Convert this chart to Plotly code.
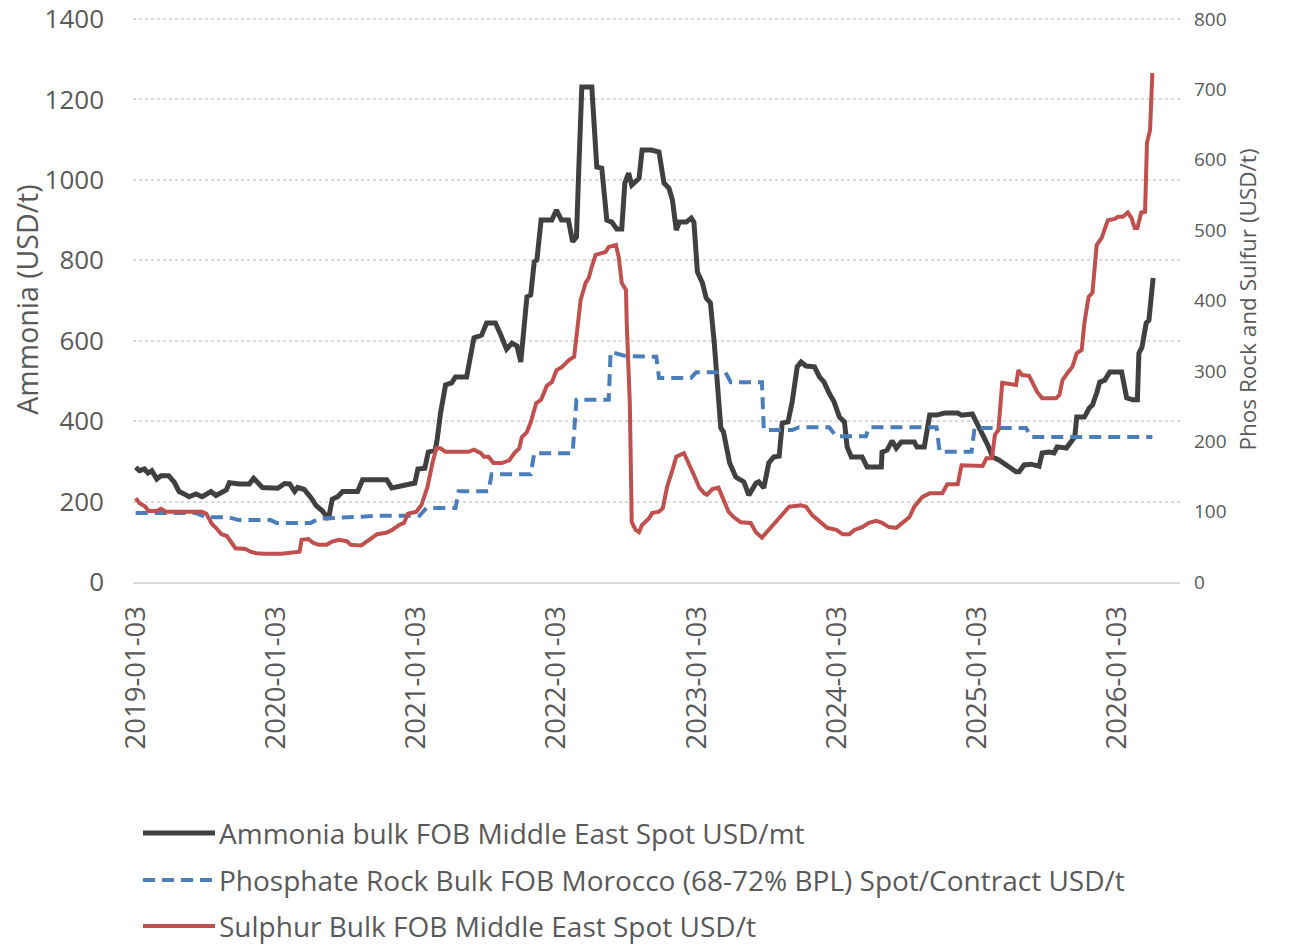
import plotly.graph_objects as go

# ---------------- data ----------------
ammonia_dates = [
    "2019-01-03", "2019-01-13", "2019-01-26", "2019-02-04", "2019-02-14", "2019-02-27",
    "2019-03-10", "2019-03-30", "2019-04-13", "2019-04-26", "2019-05-09", "2019-05-22",
    "2019-06-09", "2019-06-25", "2019-07-18", "2019-07-31", "2019-08-27", "2019-09-04",
    "2019-09-30", "2019-10-26", "2019-11-06", "2019-11-29", "2020-01-08", "2020-01-26",
    "2020-02-08", "2020-02-21", "2020-02-29", "2020-03-17", "2020-04-05", "2020-04-18",
    "2020-05-03", "2020-05-19", "2020-05-29", "2020-06-12", "2020-06-25", "2020-08-03",
    "2020-08-16", "2020-10-18", "2020-10-31", "2020-11-29", "2020-12-30", "2021-01-07",
    "2021-01-25", "2021-02-03", "2021-02-21", "2021-02-26", "2021-03-07", "2021-03-20",
    "2021-04-05", "2021-04-15", "2021-05-14", "2021-06-02", "2021-06-22", "2021-07-05",
    "2021-07-28", "2021-08-11", "2021-08-19", "2021-08-26", "2021-09-09", "2021-09-22",
    "2021-10-02", "2021-10-18", "2021-10-28", "2021-11-06", "2021-11-13", "2021-11-24",
    "2021-12-22", "2022-01-03", "2022-01-16", "2022-02-03", "2022-02-14", "2022-02-24",
    "2022-03-02", "2022-03-10", "2022-04-05", "2022-04-13", "2022-04-18", "2022-05-01",
    "2022-05-14", "2022-05-27", "2022-06-09", "2022-06-22", "2022-06-30", "2022-07-10",
    "2022-07-18", "2022-08-06", "2022-08-14", "2022-09-07", "2022-09-27", "2022-10-10",
    "2022-10-23", "2022-11-01", "2022-11-11", "2022-11-19", "2022-12-07", "2022-12-20",
    "2022-12-27", "2023-01-05", "2023-01-18", "2023-01-28", "2023-02-08", "2023-02-18",
    "2023-03-07", "2023-03-14", "2023-03-30", "2023-04-15", "2023-05-06", "2023-05-19",
    "2023-06-07", "2023-06-14", "2023-06-27", "2023-07-10", "2023-07-23", "2023-08-06",
    "2023-08-14", "2023-08-29", "2023-09-09", "2023-09-22", "2023-10-02", "2023-10-15",
    "2023-11-06", "2023-11-19", "2023-12-01", "2023-12-14", "2023-12-27", "2024-01-10",
    "2024-01-23", "2024-01-30", "2024-02-10", "2024-03-09", "2024-03-22", "2024-04-28",
    "2024-04-30", "2024-05-13", "2024-05-26", "2024-06-06", "2024-06-19", "2024-07-23",
    "2024-07-30", "2024-08-18", "2024-09-01", "2024-09-19", "2024-10-10", "2024-11-13",
    "2024-11-23", "2024-12-21", "2025-01-02", "2025-01-17", "2025-01-30", "2025-02-12",
    "2025-03-01", "2025-03-27", "2025-04-14", "2025-04-22", "2025-05-05", "2025-05-23",
    "2025-06-13", "2025-06-21", "2025-07-09", "2025-07-22", "2025-07-30", "2025-08-23",
    "2025-09-06", "2025-09-14", "2025-09-19", "2025-10-09", "2025-10-22", "2025-10-30",
    "2025-11-10", "2025-11-18", "2025-12-01", "2025-12-14", "2026-01-14", "2026-01-17",
    "2026-01-27", "2026-02-12", "2026-02-24", "2026-02-28", "2026-03-08", "2026-03-19",
    "2026-03-26", "2026-04-06",
]
ammonia_values = [
    285, 277, 281, 271, 277, 256,
    264, 264, 249, 225, 219, 212,
    219, 212, 225, 215, 229, 247,
    244, 244, 258, 235, 233, 245,
    244, 225, 235, 230, 208, 189,
    177, 156, 206, 212, 225, 225,
    254, 254, 234, 241, 246, 281,
    283, 323, 328, 353, 420, 490,
    495, 510, 510, 607, 614, 644,
    644, 614, 594, 579, 594, 587,
    547, 709, 714, 796, 801, 900,
    900, 925, 900, 900, 846, 858,
    1024, 1231, 1231, 1099, 1032, 1029,
    900, 895, 878, 878, 992, 1017,
    987, 1004, 1074, 1074, 1069, 992,
    979, 950, 875, 895, 895, 905,
    895, 771, 744, 706, 694, 594,
    383, 373, 296, 261, 249, 216,
    246, 249, 234, 296, 311, 313,
    395, 398, 448, 535, 547, 537,
    535, 510, 497, 470, 448, 410,
    398, 336, 311, 311, 286, 286,
    323, 328, 351, 333, 348, 348,
    336, 336, 415, 415, 420, 420,
    415, 418, 395, 370, 341, 311,
    303, 286, 274, 274, 291, 293,
    288, 321, 323, 321, 336, 333,
    348, 361, 410, 410, 433, 440,
    470, 497, 502, 522, 522, 507,
    458, 453, 453, 569, 584, 644,
    651, 756,
]

phos_dates = [
    "2019-01-03", "2019-06-09", "2019-07-06", "2019-09-02", "2019-09-28", "2019-12-20",
    "2020-01-05", "2020-04-03", "2020-04-24", "2020-07-11", "2020-09-23", "2021-01-11",
    "2021-01-29", "2021-04-15", "2021-04-23", "2021-07-10", "2021-07-18", "2021-10-28",
    "2021-11-06", "2022-02-14", "2022-02-24", "2022-05-19", "2022-05-24", "2022-07-03",
    "2022-09-20", "2022-09-27", "2022-12-19", "2023-01-02", "2023-03-19", "2023-04-02",
    "2023-06-22", "2023-06-27", "2023-09-09", "2023-09-27", "2023-12-14", "2024-01-02",
    "2024-03-19", "2024-03-27", "2024-09-19", "2024-09-27", "2024-12-19", "2024-12-27",
    "2025-05-10", "2025-05-23", "2026-04-04",
]
phos_values = [
    98, 98, 92, 92, 88, 88,
    84, 84, 90, 92, 94, 94,
    105, 105, 129, 129, 153, 153,
    183, 183, 259, 259, 327, 321,
    320, 290, 290, 298, 298, 284,
    284, 216, 216, 220, 220, 207,
    207, 220, 220, 185, 185, 219,
    219, 206, 206,
]

sulphur_dates = [
    "2019-01-03", "2019-01-13", "2019-01-26", "2019-02-06", "2019-02-27", "2019-03-10",
    "2019-03-23", "2019-06-09", "2019-06-25", "2019-07-06", "2019-07-21", "2019-07-31",
    "2019-08-14", "2019-08-29", "2019-09-20", "2019-10-16", "2019-10-29", "2019-11-13",
    "2019-12-02", "2020-01-18", "2020-02-14", "2020-03-05", "2020-03-10", "2020-03-28",
    "2020-04-11", "2020-04-24", "2020-05-14", "2020-05-27", "2020-06-15", "2020-07-06",
    "2020-07-16", "2020-08-12", "2020-09-02", "2020-09-23", "2020-10-16", "2020-11-01",
    "2020-11-19", "2020-12-02", "2020-12-12", "2021-01-03", "2021-01-16", "2021-02-01",
    "2021-02-14", "2021-02-24", "2021-03-07", "2021-03-20", "2021-05-19", "2021-06-02",
    "2021-06-20", "2021-06-28", "2021-07-10", "2021-07-23", "2021-08-14", "2021-09-02",
    "2021-09-15", "2021-09-28", "2021-10-05", "2021-10-18", "2021-10-28", "2021-11-11",
    "2021-11-24", "2021-12-09", "2021-12-22", "2022-01-03", "2022-01-16", "2022-01-29",
    "2022-02-06", "2022-02-18", "2022-02-25", "2022-03-07", "2022-03-20", "2022-03-28",
    "2022-04-05", "2022-04-15", "2022-04-28", "2022-05-11", "2022-05-19", "2022-06-07",
    "2022-06-14", "2022-06-22", "2022-07-03", "2022-07-05", "2022-07-13", "2022-07-18",
    "2022-07-28", "2022-08-06", "2022-08-14", "2022-09-02", "2022-09-09", "2022-09-27",
    "2022-10-07", "2022-10-18", "2022-11-01", "2022-11-11", "2022-12-01", "2022-12-14",
    "2022-12-27", "2023-01-10", "2023-01-23", "2023-01-30", "2023-02-13", "2023-03-01",
    "2023-03-14", "2023-03-27", "2023-04-10", "2023-04-28", "2023-05-24", "2023-06-06",
    "2023-06-22", "2023-07-10", "2023-07-28", "2023-08-14", "2023-09-01", "2023-10-02",
    "2023-10-15", "2023-10-31", "2023-11-24", "2023-12-09", "2024-01-02", "2024-01-18",
    "2024-02-05", "2024-02-18", "2024-03-09", "2024-03-27", "2024-04-15", "2024-04-30",
    "2024-05-18", "2024-06-06", "2024-06-22", "2024-07-10", "2024-07-23", "2024-08-13",
    "2024-09-01", "2024-10-04", "2024-10-17", "2024-11-13", "2024-11-23", "2025-01-17",
    "2025-01-27", "2025-02-10", "2025-02-18", "2025-02-27", "2025-03-09", "2025-04-14",
    "2025-04-20", "2025-04-30", "2025-05-18", "2025-06-01", "2025-06-08", "2025-06-21",
    "2025-07-27", "2025-08-05", "2025-08-13", "2025-08-26", "2025-09-08", "2025-09-19",
    "2025-10-02", "2025-10-09", "2025-10-20", "2025-10-30", "2025-11-10", "2025-11-23",
    "2025-12-01", "2025-12-09", "2025-12-27", "2026-01-04", "2026-01-17", "2026-01-30",
    "2026-02-09", "2026-02-17", "2026-02-24", "2026-03-06", "2026-03-16", "2026-03-21",
    "2026-03-29", "2026-04-04",
]
sulphur_values = [
    119, 112, 108, 101, 101, 104,
    100, 101, 100, 97, 82, 77,
    68, 65, 48, 47, 43, 41,
    40, 40, 41, 43, 60, 61,
    55, 53, 53, 57, 60, 58,
    53, 52, 60, 68, 70, 74,
    81, 84, 97, 100, 109, 135,
    169, 190, 190, 185, 185, 188,
    183, 178, 178, 169, 169, 173,
    183, 190, 206, 213, 227, 254,
    259, 279, 284, 301, 305, 313,
    316, 320, 358, 401, 425, 432,
    448, 465, 467, 469, 476, 479,
    462, 425, 415, 368, 254, 85,
    74, 71, 81, 91, 98, 100,
    105, 135, 159, 178, 183, 169,
    152, 134, 126, 124, 132, 134,
    117, 100, 92, 85, 84, 71,
    63, 74, 85, 95, 107, 109,
    107, 95, 84, 77, 74, 68,
    68, 74, 78, 84, 87, 84,
    78, 77, 84, 92, 107, 121,
    126, 126, 139, 139, 166, 165,
    176, 176, 209, 216, 283, 280,
    301, 294, 293, 276, 270, 261,
    261, 266, 287, 297, 306, 325,
    330, 368, 405, 411, 479, 489,
    503, 514, 516, 519, 519, 525,
    517, 503, 503, 525, 526, 624,
    642, 723,
]

series_names = [
    "Ammonia bulk FOB Middle East Spot USD/mt",
    "Phosphate Rock Bulk FOB Morocco (68-72% BPL) Spot/Contract USD/t",
    "Sulphur Bulk FOB Middle East Spot USD/t",
]
x_tick_dates = ["2019-01-03", "2020-01-03", "2021-01-03", "2022-01-03",
                "2023-01-03", "2024-01-03", "2025-01-03", "2026-01-03"]
left_title = "Ammonia (USD/t)"
right_title = "Phos Rock and Sulfur (USD/t)"
left_max, right_max = 1400, 800

# ---------------- styling ----------------
FONT = "Open Sans"
TXT = "#595959"
colors = ["#404040", "#4a7ebb", "#c0504d"]
widths = [5, 4, 4]
dashes = ["solid", "12px,7px", "solid"]

# the page adds an 8px body margin, so the figure is drawn 8px smaller
OFF = 8
W, H = 1299 - OFF, 944 - OFF
# small head-room above the top tick so its gridline is drawn (2px)
pad = 1405 / 1400
ML, MR, MT, MB = 125, 119, 9, 362
PW, PH = W - ML - MR, H - MT - MB


def page_to_paper(px, py):
    fx, fy = px - OFF, py - OFF
    return (fx - ML) / PW, (H - MB - fy) / PH


fig = go.Figure()
fig.add_trace(go.Scatter(x=ammonia_dates, y=ammonia_values, name=series_names[0],
                         mode="lines", line=dict(color=colors[0], width=widths[0]),
                         yaxis="y", showlegend=False))
fig.add_trace(go.Scatter(x=phos_dates, y=phos_values, name=series_names[1],
                         mode="lines", line=dict(color=colors[1], width=widths[1], dash=dashes[1]),
                         yaxis="y2", showlegend=False))
fig.add_trace(go.Scatter(x=sulphur_dates, y=sulphur_values, name=series_names[2],
                         mode="lines", line=dict(color=colors[2], width=widths[2]),
                         yaxis="y2", showlegend=False))

# legend drawn below the plot (line sample + label for each series)
legend_rows_py = [833, 880, 926]
shapes, annotations = [], []
for i, name in enumerate(series_names):
    x0, yy = page_to_paper(143, legend_rows_py[i])
    x1, _ = page_to_paper(215, legend_rows_py[i])
    shapes.append(dict(type="line", xref="paper", yref="paper", x0=x0, x1=x1, y0=yy, y1=yy,
                       line=dict(color=colors[i], width=widths[i], dash=dashes[i])))
    xt, _ = page_to_paper(217, legend_rows_py[i])
    annotations.append(dict(text=name, xref="paper", yref="paper", x=xt, y=yy,
                            xanchor="left", yanchor="middle", showarrow=False,
                            font=dict(size=28, color=TXT, family=FONT)))

fig.update_layout(
    width=W, height=H,
    margin=dict(l=ML, r=MR, t=MT, b=MB, autoexpand=False),
    paper_bgcolor="white", plot_bgcolor="white",
    font=dict(family=FONT, color=TXT),
    showlegend=False,
    shapes=shapes, annotations=annotations,
    xaxis=dict(
        type="date", range=["2018-12-27", "2026-06-15"], automargin=False,
        tickvals=x_tick_dates, ticktext=x_tick_dates, tickangle=-90,
        tickfont=dict(size=27.5, color=TXT, family=FONT),
        showgrid=False, showline=True, linecolor="#d9d9d9", linewidth=2,
        ticks="", ticklabelstandoff=11, zeroline=False,
    ),
    yaxis=dict(
        range=[0, left_max * pad], dtick=200, tick0=0, automargin=False,
        tickfont=dict(size=26, color=TXT, family=FONT), ticklabeloverflow="allow",
        showgrid=True, gridcolor="#d9d9d9", griddash="dot", gridwidth=1.5,
        zeroline=False, showline=False, ticks="", ticklabelstandoff=28,
        title=dict(text=left_title, font=dict(size=28.5, color=TXT, family=FONT), standoff=0),
    ),
    yaxis2=dict(
        range=[0, right_max * pad], dtick=100, tick0=0, overlaying="y", side="right",
        automargin=False, ticklabeloverflow="allow",
        tickfont=dict(size=19, color=TXT, family=FONT),
        showgrid=False, zeroline=False, showline=False, ticks="", ticklabelstandoff=13,
        title=dict(text=right_title, font=dict(size=22.5, color=TXT, family=FONT), standoff=14),
    ),
)

fig.write_html("out.html")
